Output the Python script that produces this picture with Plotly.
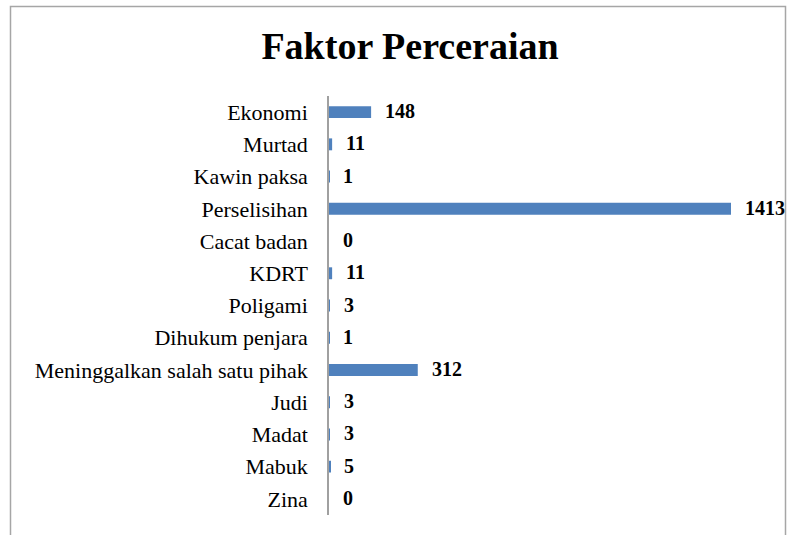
import plotly.graph_objects as go

categories = ["Ekonomi", "Murtad", "Kawin paksa", "Perselisihan", "Cacat badan", "KDRT",
              "Poligami", "Dihukum penjara", "Meninggalkan salah satu pihak", "Judi",
              "Madat", "Mabuk", "Zina"]
values = [148, 11, 1, 1413, 0, 11, 3, 1, 312, 3, 3, 5, 0]
title = "Faktor Perceraian"

W, H = 796, 535
L, R, T, B = 329, 16, 96, 20
pw = W - L - R
ph = H - T - B

fig = go.Figure()
fig.add_trace(go.Bar(
    x=values, y=categories, orientation="h",
    marker=dict(color="#4f81bd", line=dict(width=0)),
    width=0.37, hoverinfo="x+y",
))

for c, v in zip(categories, values):
    fig.add_annotation(x=v, y=c, text="<b>" + str(v) + "</b>", showarrow=False,
                       xanchor="left", xshift=12, yshift=1,
                       font=dict(family="Liberation Serif", size=20, color="black"),
                       xref="x", yref="y")

# outer chart border (extends below the visible window)
fig.add_shape(type="rect", xref="paper", yref="paper",
              x0=(10.5 - L) / pw, x1=(785.5 - L) / pw,
              y0=(T + ph - 560) / ph, y1=(T + ph - 6.5) / ph,
              line=dict(color="#a6a6a6", width=1.5), fillcolor="rgba(0,0,0,0)", layer="below")

fig.update_layout(
    width=W, height=H,
    margin=dict(l=L, r=R, t=T, b=B, autoexpand=False),
    paper_bgcolor="white", plot_bgcolor="white",
    showlegend=False,
    title=dict(text="<b>" + title + "</b>", x=410 / W, xanchor="center",
               y=1 - 46 / H, yanchor="middle",
               font=dict(family="Liberation Serif", size=38, color="black")),
    xaxis=dict(range=[0, 1413 * pw / 402], visible=False, fixedrange=True),
    yaxis=dict(categoryorder="array", categoryarray=categories[::-1],
               autorange=False, range=[-0.5, len(categories) - 0.5],
               showline=True, linecolor="#a0a0a0", linewidth=1.5,
               ticks="", ticklabelstandoff=15, showgrid=False, zeroline=False,
               tickfont=dict(family="Liberation Serif", size=22, color="black")),
    font=dict(family="Liberation Serif"),
)

fig.write_html("out.html", config={"displayModeBar": False},
               post_script="document.body.style.margin='0';")
